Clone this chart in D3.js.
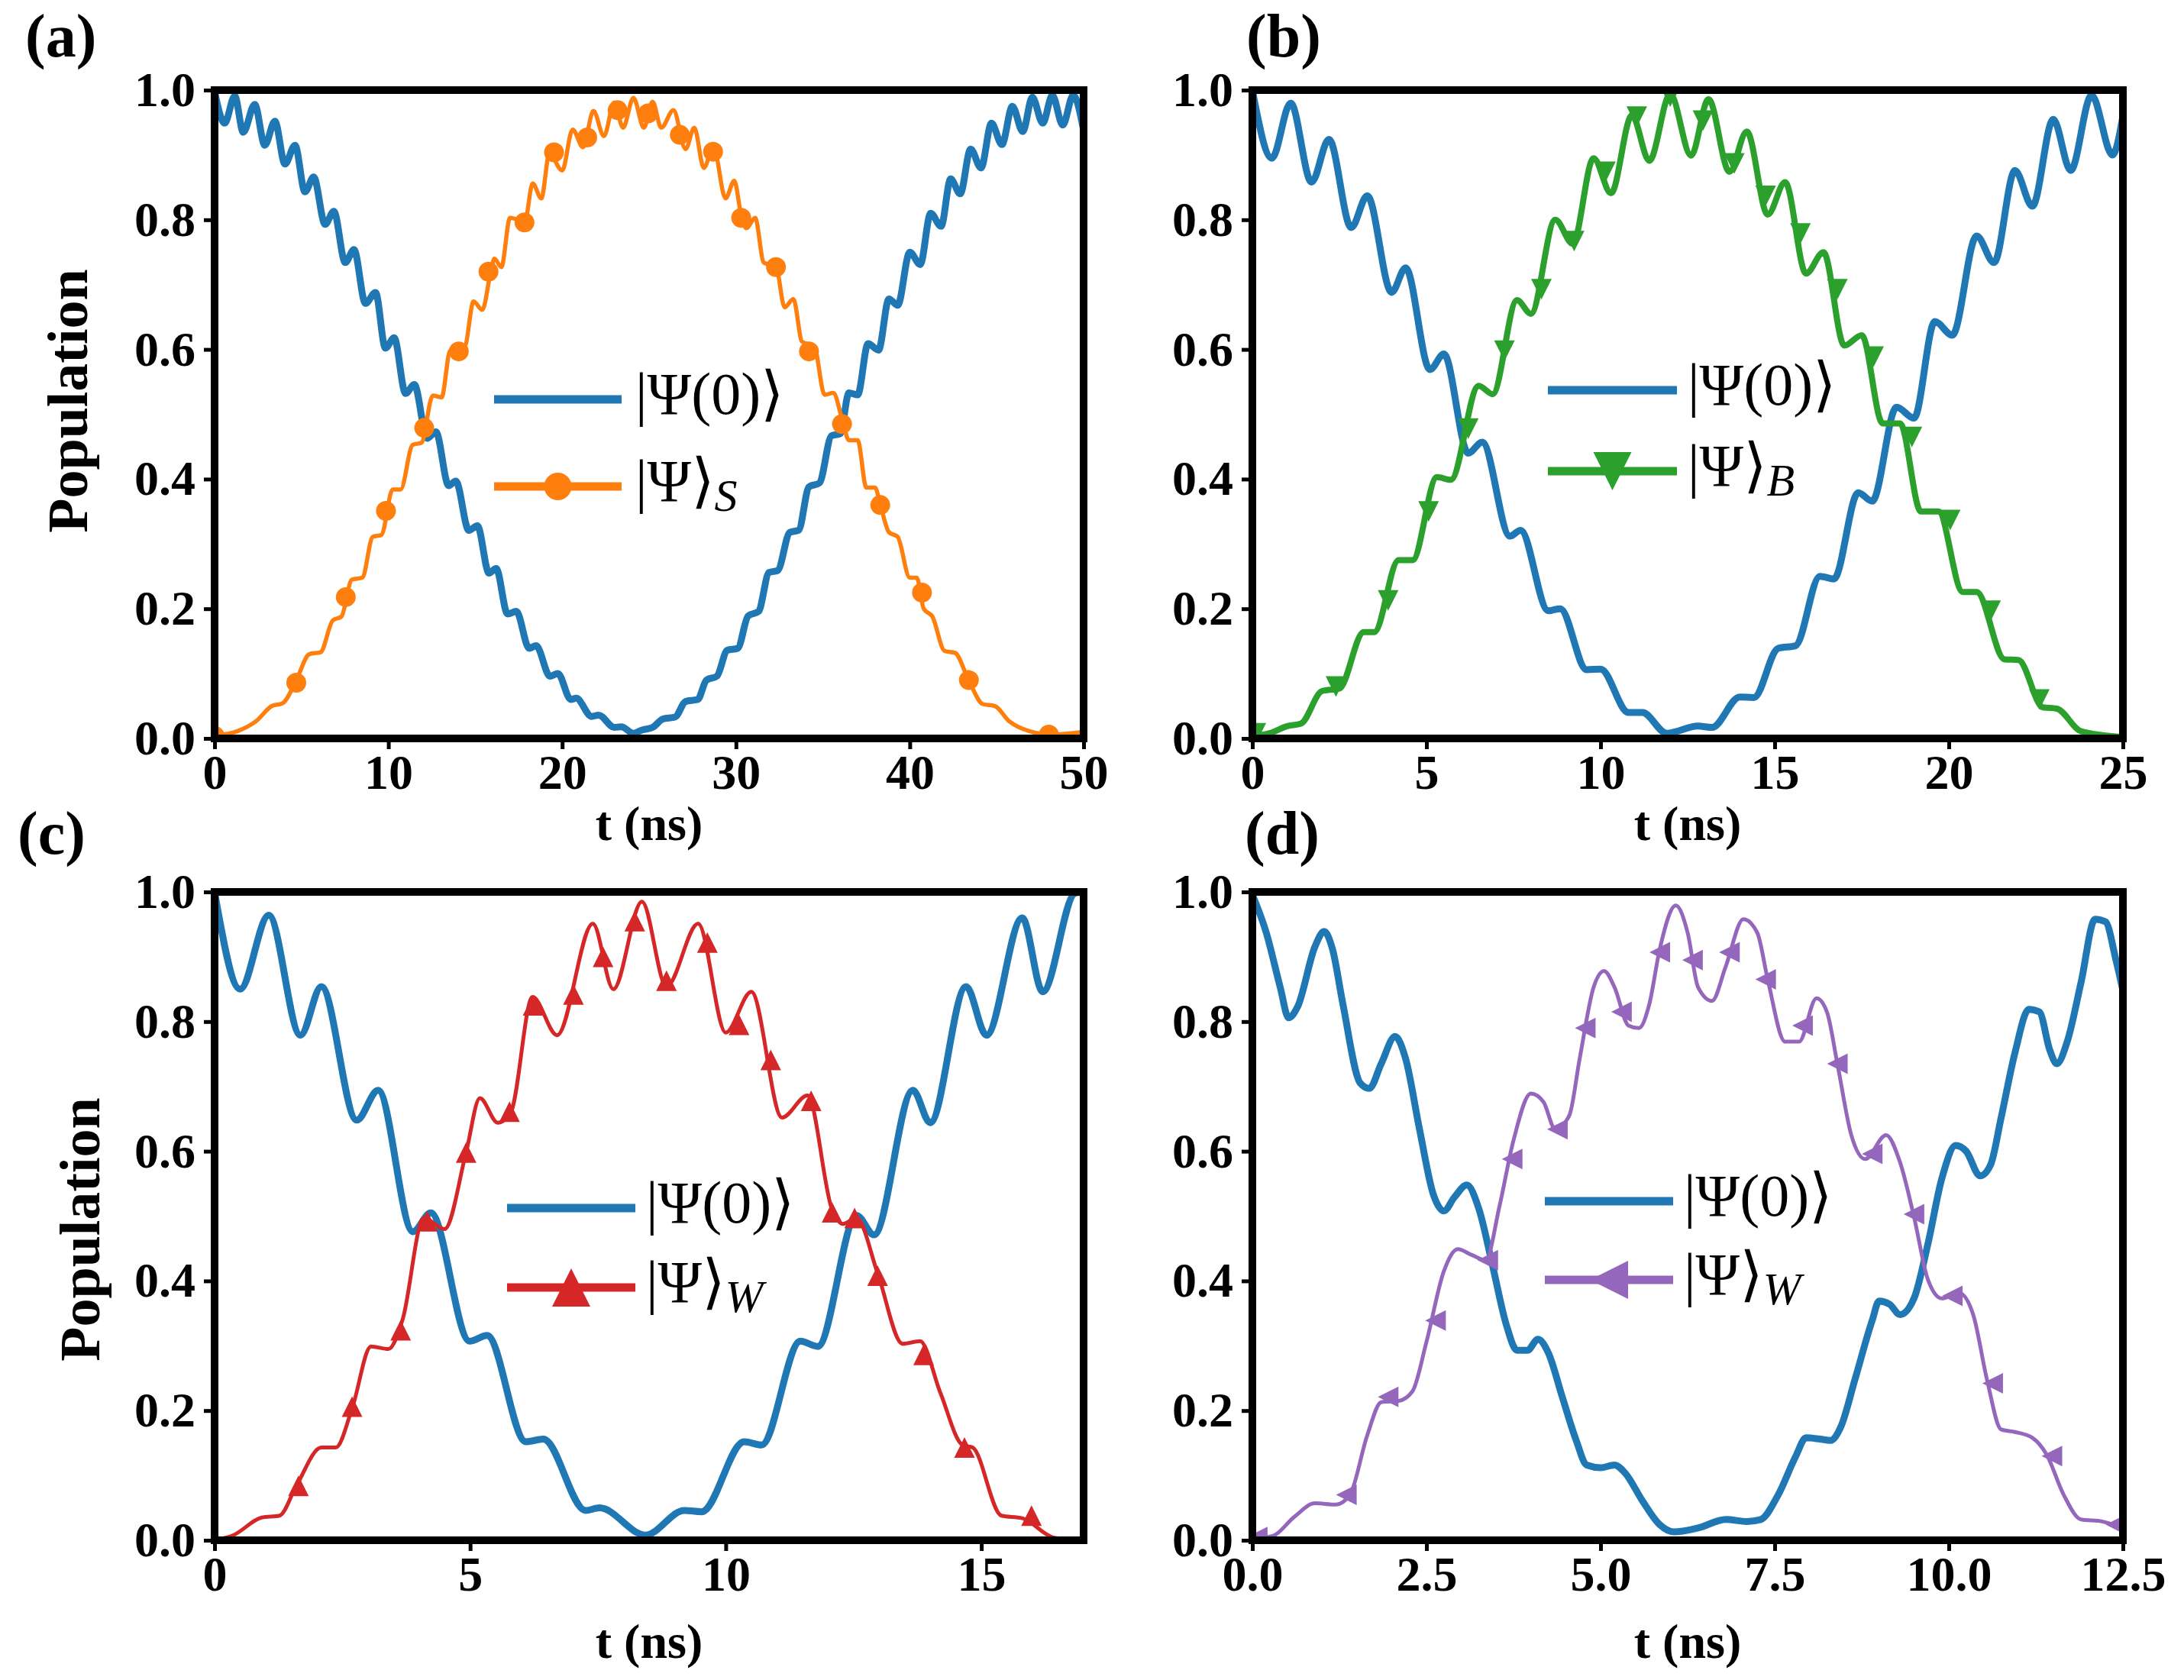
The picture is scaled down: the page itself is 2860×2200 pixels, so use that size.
<!DOCTYPE html>
<html>
<head>
<meta charset="utf-8">
<script src="https://cdnjs.cloudflare.com/ajax/libs/d3/7.8.5/d3.min.js"></script>
<style>
  body { margin: 0; background: #fff; }
  svg { display: block; }
</style>
</head>
<body>
<svg id="fig"></svg>
<script>
// ---- data: [t (ns), population] ----
const aBlue = [[0,0.998],[0.58,0.949],[1.16,0.991],[1.65,0.935],[2.31,0.978],[2.89,0.915],[3.47,0.952],[4.05,0.886],[4.63,0.915],[5.2,0.843],[5.7,0.866],[6.36,0.793],[6.86,0.813],[7.52,0.734],[8.02,0.754],[8.68,0.671],[9.26,0.688],[9.83,0.602],[10.33,0.618],[10.99,0.532],[11.49,0.546],[12.23,0.463],[12.73,0.473],[13.47,0.39],[13.88,0.397],[14.63,0.321],[15.12,0.328],[15.79,0.255],[16.2,0.262],[16.86,0.192],[17.36,0.196],[18.1,0.139],[18.5,0.143],[19.3,0.096],[19.75,0.1],[20.5,0.06],[20.8,0.062],[21.7,0.034],[22.1,0.036],[23.0,0.017],[23.4,0.018],[24.1,0.008],[24.6,0.013],[25.2,0.017],[25.8,0.03],[26.5,0.033],[27.1,0.057],[27.8,0.06],[28.3,0.09],[28.9,0.096],[29.5,0.136],[30.1,0.139],[30.7,0.189],[31.3,0.196],[31.9,0.256],[32.4,0.259],[33.1,0.318],[33.6,0.321],[34.2,0.388],[34.8,0.394],[35.5,0.467],[36.0,0.47],[36.5,0.533],[37.0,0.53],[37.6,0.609],[38.2,0.599],[38.8,0.678],[39.3,0.668],[40.0,0.75],[40.6,0.731],[41.2,0.81],[41.8,0.79],[42.35,0.863],[42.9,0.84],[43.5,0.909],[44.1,0.88],[44.7,0.949],[45.3,0.916],[45.9,0.975],[46.5,0.936],[47.05,0.989],[47.65,0.949],[48.2,0.992],[48.8,0.946],[49.4,0.992],[50,0.938]];
const aOrange = [[0,0.004],[1.3,0.011],[2.4,0.027],[3.3,0.05],[3.9,0.054],[4.66,0.087],[5.45,0.13],[6.1,0.133],[6.8,0.182],[7.3,0.188],[7.9,0.245],[8.5,0.248],[9.1,0.311],[9.6,0.314],[10.25,0.384],[10.7,0.384],[11.4,0.453],[11.9,0.456],[12.56,0.529],[13.06,0.526],[13.55,0.598],[14.4,0.605],[14.9,0.674],[15.4,0.661],[15.9,0.721],[16.1,0.74],[16.5,0.727],[17.0,0.803],[17.85,0.797],[18.3,0.856],[18.8,0.833],[19.26,0.902],[20.0,0.876],[20.6,0.939],[21.2,0.912],[21.8,0.968],[22.4,0.929],[23.0,0.981],[23.5,0.942],[24.1,0.988],[24.7,0.942],[25.2,0.982],[25.7,0.942],[26.4,0.969],[27.1,0.909],[27.6,0.942],[28.15,0.88],[28.7,0.913],[29.4,0.833],[29.9,0.86],[30.3,0.807],[30.6,0.787],[31.1,0.803],[31.6,0.734],[32.3,0.728],[32.8,0.665],[33.3,0.678],[33.8,0.612],[34.5,0.605],[35.1,0.53],[35.6,0.533],[36.1,0.493],[36.5,0.46],[37.0,0.46],[37.5,0.387],[38.0,0.387],[38.3,0.361],[38.8,0.318],[39.3,0.311],[40.0,0.248],[40.4,0.248],[40.8,0.2],[41.3,0.188],[42.0,0.135],[42.6,0.132],[43.4,0.089],[44.2,0.053],[44.9,0.05],[45.7,0.027],[46.9,0.011],[48.1,0.006],[50,0.01]];
const aOrangeMarks = [[0,0.004],[4.7,0.086],[7.55,0.218],[9.86,0.351],[12.06,0.479],[14.05,0.597],[15.76,0.72],[17.83,0.796],[19.53,0.904],[21.44,0.927],[23.19,0.969],[24.94,0.964],[26.77,0.931],[28.68,0.905],[30.3,0.803],[32.3,0.727],[34.2,0.597],[36.1,0.485],[38.3,0.36],[40.7,0.225],[43.4,0.09],[48.0,0.006]];

const bBlue = [[0,1.0],[0.56,0.895],[1.1,0.98],[1.7,0.858],[2.2,0.924],[2.84,0.788],[3.3,0.837],[4.0,0.688],[4.4,0.726],[5.1,0.569],[5.5,0.593],[6.2,0.44],[6.6,0.457],[7.4,0.312],[7.7,0.321],[8.5,0.197],[8.84,0.2],[9.6,0.106],[10.0,0.107],[10.8,0.04],[11.2,0.04],[11.9,0.008],[12.8,0.019],[13.2,0.017],[14.0,0.064],[14.4,0.063],[15.1,0.139],[15.6,0.143],[16.3,0.25],[16.7,0.246],[17.4,0.379],[17.8,0.366],[18.5,0.511],[19.0,0.494],[19.6,0.643],[20.1,0.622],[20.8,0.775],[21.3,0.734],[21.9,0.876],[22.4,0.821],[23.0,0.955],[23.5,0.876],[24.1,0.992],[24.7,0.9],[25,0.96]];
const bGreen = [[0,0.003],[0.5,0.008],[1.0,0.019],[1.4,0.023],[2.0,0.073],[2.5,0.077],[3.2,0.164],[3.5,0.164],[4.2,0.275],[4.6,0.275],[5.3,0.403],[5.7,0.399],[6.5,0.544],[6.9,0.531],[7.6,0.676],[8.0,0.655],[8.7,0.8],[9.2,0.763],[9.8,0.895],[10.3,0.841],[10.9,0.961],[11.4,0.891],[12.0,0.994],[12.6,0.899],[13.1,0.986],[13.7,0.874],[14.2,0.936],[14.8,0.808],[15.3,0.858],[15.9,0.717],[16.4,0.75],[17.0,0.606],[17.5,0.622],[18.1,0.486],[18.6,0.486],[19.2,0.35],[19.7,0.35],[20.4,0.226],[20.8,0.226],[21.6,0.122],[22.0,0.121],[22.7,0.048],[23.1,0.046],[23.8,0.011],[25,0.002]];
const bGreenMarks = [[0.1,0.008],[2.4,0.08],[3.9,0.213],[5.06,0.35],[6.2,0.478],[7.24,0.598],[8.3,0.693],[9.24,0.767],[10.14,0.874],[11.04,0.959],[12.0,0.99],[12.94,0.953],[13.84,0.887],[14.74,0.837],[15.74,0.779],[16.8,0.693],[17.84,0.589],[18.94,0.465],[20.04,0.337],[21.2,0.197],[22.6,0.06]];

const cBlue = [[0,1.0],[0.5,0.85],[1.06,0.964],[1.68,0.779],[2.09,0.854],[2.78,0.648],[3.2,0.694],[3.88,0.476],[4.23,0.505],[4.99,0.307],[5.33,0.316],[6.09,0.152],[6.43,0.156],[7.26,0.046],[7.53,0.05],[8.43,0.008],[9.19,0.046],[9.53,0.044],[10.36,0.152],[10.7,0.147],[11.46,0.307],[11.8,0.299],[12.56,0.501],[12.9,0.471],[13.66,0.694],[14.0,0.644],[14.7,0.854],[15.1,0.779],[15.8,0.96],[16.2,0.846],[16.83,0.998],[17,1.0]];
const cRed = [[0,0],[0.37,0.008],[0.92,0.035],[1.27,0.038],[1.6,0.084],[2.09,0.143],[2.37,0.143],[2.7,0.206],[3.06,0.299],[3.4,0.295],[3.68,0.341],[4.09,0.497],[4.5,0.48],[4.92,0.598],[5.19,0.682],[5.54,0.644],[5.8,0.661],[6.22,0.838],[6.7,0.779],[7.4,0.951],[7.8,0.85],[8.36,0.985],[8.84,0.854],[9.46,0.951],[10.0,0.783],[10.5,0.846],[11.1,0.652],[11.6,0.686],[12.08,0.51],[12.29,0.488],[12.56,0.497],[12.97,0.412],[13.46,0.303],[13.8,0.307],[14.2,0.227],[14.63,0.147],[14.83,0.143],[15.39,0.038],[15.8,0.034],[16.42,0.004],[17,0]];
const cRedMarks = [[1.64,0.084],[2.69,0.206],[3.64,0.324],[4.16,0.492],[4.92,0.598],[5.77,0.661],[6.23,0.825],[7.02,0.842],[7.6,0.9],[8.22,0.955],[8.84,0.863],[9.64,0.922],[10.26,0.795],[10.88,0.741],[11.67,0.678],[12.08,0.506],[12.52,0.497],[12.97,0.408],[13.87,0.286],[14.67,0.143],[15.98,0.038]];

const dBlue = [[0,0.996],[0.2,0.937],[0.4,0.853],[0.52,0.806],[0.65,0.823],[0.9,0.916],[1.03,0.939],[1.15,0.912],[1.3,0.827],[1.55,0.705],[1.68,0.697],[1.85,0.735],[2.05,0.777],[2.2,0.743],[2.4,0.634],[2.6,0.533],[2.75,0.508],[2.9,0.529],[3.08,0.548],[3.25,0.512],[3.45,0.423],[3.65,0.331],[3.8,0.293],[3.95,0.293],[4.1,0.31],[4.25,0.289],[4.45,0.221],[4.65,0.154],[4.8,0.116],[5.0,0.112],[5.2,0.116],[5.35,0.104],[5.6,0.061],[5.85,0.024],[6.05,0.013],[6.4,0.019],[6.8,0.032],[7.1,0.029],[7.3,0.032],[7.55,0.07],[7.8,0.129],[7.95,0.158],[8.15,0.156],[8.3,0.154],[8.45,0.175],[8.65,0.247],[8.9,0.339],[9.0,0.369],[9.15,0.364],[9.3,0.348],[9.5,0.373],[9.7,0.457],[9.9,0.558],[10.1,0.609],[10.25,0.6],[10.45,0.562],[10.6,0.579],[10.75,0.651],[10.95,0.752],[11.15,0.819],[11.3,0.815],[11.45,0.756],[11.55,0.735],[11.7,0.769],[11.9,0.861],[12.1,0.958],[12.25,0.954],[12.4,0.895],[12.5,0.848]];
const dPurple = [[0.05,0.003],[0.3,0.007],[0.6,0.036],[0.9,0.057],[1.2,0.055],[1.4,0.07],[1.65,0.162],[1.85,0.213],[2.1,0.215],[2.3,0.23],[2.5,0.306],[2.75,0.415],[2.95,0.449],[3.15,0.44],[3.35,0.432],[3.55,0.516],[3.75,0.617],[4.0,0.689],[4.18,0.676],[4.35,0.634],[4.55,0.655],[4.7,0.743],[4.9,0.853],[5.05,0.878],[5.2,0.853],[5.4,0.794],[5.55,0.79],[5.7,0.827],[5.85,0.912],[6.08,0.979],[6.25,0.937],[6.4,0.853],[6.6,0.832],[6.8,0.886],[7.05,0.958],[7.25,0.937],[7.4,0.865],[7.65,0.769],[7.85,0.769],[8.1,0.836],[8.25,0.815],[8.4,0.735],[8.6,0.625],[8.8,0.588],[9.1,0.625],[9.3,0.583],[9.5,0.499],[9.7,0.402],[9.9,0.373],[10.15,0.381],[10.35,0.348],[10.55,0.247],[10.75,0.171],[10.95,0.167],[11.2,0.158],[11.4,0.133],[11.65,0.07],[11.9,0.032],[12.2,0.029],[12.5,0.019]];
const dPurpleMarks = [[0.07,0.005],[1.35,0.07],[1.95,0.221],[2.63,0.339],[3.38,0.432],[3.73,0.588],[4.38,0.634],[4.78,0.79],[5.3,0.815],[5.85,0.907],[6.32,0.895],[6.85,0.907],[7.37,0.865],[7.9,0.794],[8.4,0.735],[8.9,0.596],[9.5,0.503],[10.05,0.377],[10.63,0.242],[11.48,0.13],[12.4,0.024]];

// ---- ticks and labels ----
const yTicks = [0, 0.2, 0.4, 0.6, 0.8, 1.0];
const aTicks = [0, 10, 20, 30, 40, 50];
const bTicks = [0, 5, 10, 15, 20, 25];
const cTicks = [0, 5, 10, 15];
const dTicks = [0, 2.5, 5, 7.5, 10, 12.5];
const panelLetters = ['(a)', '(b)', '(c)', '(d)'];
const subscripts = ['S', 'B', 'W', 'W'];

const BLUE = '#1f77b4';
const serif = "'Liberation Serif','Times New Roman',serif";
const mathFont = "'Liberation Serif','DejaVu Serif','DejaVu Sans',serif";

const panels = [
  { left: 281, right: 1419, top: 118, bottom: 967, xDomain: [0, 50], xTicks: aTicks, xFmt: 'd',
    base: aBlue, other: aOrange, marks: aOrangeMarks, color: '#ff7f0e', lw: 5.5, marker: 'circle',
    legend: { x0: 647, x1: 814, y1: 523, y2: 637, tx: 832 }, letter: [33, 74], ylabel: [114, 525], xlabelY: 1100 },
  { left: 1640, right: 2780, top: 118, bottom: 967, xDomain: [0, 25], xTicks: bTicks, xFmt: 'd',
    base: bBlue, other: bGreen, marks: bGreenMarks, color: '#2ca02c', lw: 8, marker: 'down',
    legend: { x0: 2027, x1: 2196, y1: 511, y2: 617, tx: 2210 }, letter: [1632, 74], ylabel: null, xlabelY: 1100 },
  { left: 281, right: 1419, top: 1168, bottom: 2017, xDomain: [0, 17], xTicks: cTicks, xFmt: 'd',
    base: cBlue, other: cRed, marks: cRedMarks, color: '#d62728', lw: 5, marker: 'up',
    legend: { x0: 664, x1: 832, y1: 1582, y2: 1686, tx: 846 }, letter: [23, 1118], ylabel: [130, 1610], xlabelY: 2171 },
  { left: 1640, right: 2780, top: 1168, bottom: 2017, xDomain: [0, 12.5], xTicks: dTicks, xFmt: '.1f',
    base: dBlue, other: dPurple, marks: dPurpleMarks, color: '#9467bd', lw: 5, marker: 'left',
    legend: { x0: 2023, x1: 2191, y1: 1573, y2: 1676, tx: 2205 }, letter: [1630, 1118], ylabel: null, xlabelY: 2171 }
];

const svg = d3.select('#fig').attr('width', 2860).attr('height', 2200);
svg.append('rect').attr('width', 2860).attr('height', 2200).attr('fill', '#fff');
const defs = svg.append('defs');

// triangle markers centred on their bounding box, like matplotlib
function triPath(type, s) {
  const h = s / 2;
  if (type === 'up') return `M0,${-h}L${h},${h}L${-h},${h}Z`;
  if (type === 'down') return `M0,${h}L${h},${-h}L${-h},${-h}Z`;
  return `M${-h},0L${h},${-h}L${h},${h}Z`;
}

function drawMarker(g, type, cx, cy, size, color) {
  if (type === 'circle') {
    g.append('circle').attr('cx', cx).attr('cy', cy).attr('r', size / 2).attr('fill', color);
  } else {
    g.append('path').attr('d', triPath(type, size))
     .attr('transform', `translate(${cx},${cy})`).attr('fill', color);
  }
}

panels.forEach((p, i) => {
  const x = d3.scaleLinear().domain(p.xDomain).range([p.left, p.right]);
  const y = d3.scaleLinear().domain([0, 1]).range([p.bottom, p.top]);

  const clipId = 'clip' + i;
  defs.append('clipPath').attr('id', clipId).append('rect')
      .attr('x', p.left).attr('y', p.top)
      .attr('width', p.right - p.left).attr('height', p.bottom - p.top);

  const line = d3.line()
                 .x(d => x(d[0]))
                 .y(d => y(d[1]))
                 .curve(d3.curveMonotoneX);

  const plot = svg.append('g').attr('clip-path', `url(#${clipId})`);

  // |Psi(0)> population
  plot.append('path')
      .datum(p.base)
      .attr('fill', 'none')
      .attr('stroke', BLUE)
      .attr('stroke-width', 9)
      .attr('stroke-linejoin', 'round')
      .attr('d', line);

  // target state population
  plot.append('path')
      .datum(p.other)
      .attr('fill', 'none')
      .attr('stroke', p.color)
      .attr('stroke-width', p.lw)
      .attr('stroke-linejoin', 'round')
      .attr('d', line);

  p.marks.forEach(d => drawMarker(plot, p.marker, x(d[0]), y(d[1]), p.marker === 'circle' ? 26 : 27, p.color));

  // axes
  const xAxis = svg.append('g')
     .attr('transform', `translate(0,${p.bottom})`)
     .call(d3.axisBottom(x).tickValues(p.xTicks).tickFormat(d3.format(p.xFmt))
             .tickSize(14).tickPadding(7));
  const yAxis = svg.append('g')
     .attr('transform', `translate(${p.left},0)`)
     .call(d3.axisLeft(y).tickValues(yTicks).tickFormat(d3.format('.1f'))
             .tickSize(14).tickPadding(11));
  [xAxis, yAxis].forEach(ax => {
    ax.select('.domain').remove();
    ax.selectAll('line').attr('stroke', '#000').attr('stroke-width', 5);
    ax.selectAll('text')
      .attr('fill', '#000')
      .style('font-family', serif)
      .style('font-weight', 'bold')
      .style('font-size', '64px');
  });

  // frame
  svg.append('rect')
     .attr('x', p.left).attr('y', p.top)
     .attr('width', p.right - p.left).attr('height', p.bottom - p.top)
     .attr('fill', 'none').attr('stroke', '#000').attr('stroke-width', 10);

  // axis labels
  svg.append('text')
     .attr('x', (p.left + p.right) / 2).attr('y', p.xlabelY)
     .attr('text-anchor', 'middle')
     .style('font-family', serif).style('font-weight', 'bold').style('font-size', '64px')
     .text('t (ns)');

  if (p.ylabel) {
    svg.append('text')
       .attr('transform', `translate(${p.ylabel[0]},${p.ylabel[1]}) rotate(-90)`)
       .attr('text-anchor', 'middle')
       .style('font-family', serif).style('font-weight', 'bold').style('font-size', '74px')
       .text('Population');
  }

  svg.append('text')
     .attr('x', p.letter[0]).attr('y', p.letter[1])
     .style('font-family', serif).style('font-weight', 'bold').style('font-size', '80px')
     .text(panelLetters[i]);

  // legend (no frame)
  const L = p.legend;
  const lg = svg.append('g');
  lg.append('line').attr('x1', L.x0).attr('x2', L.x1).attr('y1', L.y1).attr('y2', L.y1)
    .attr('stroke', BLUE).attr('stroke-width', 11);
  lg.append('line').attr('x1', L.x0).attr('x2', L.x1).attr('y1', L.y2).attr('y2', L.y2)
    .attr('stroke', p.color).attr('stroke-width', 11);
  drawMarker(lg, p.marker, (L.x0 + L.x1) / 2, L.y2, p.marker === 'circle' ? 36 : 50, p.color);

  lg.append('text')
    .attr('x', L.tx).attr('y', L.y1 + 19)
    .style('font-family', mathFont).style('font-size', '78px')
    .text('|\u03A8(0)\u27E9');
  const t2 = lg.append('text')
    .attr('x', L.tx).attr('y', L.y2 + 19)
    .style('font-family', mathFont).style('font-size', '78px');
  t2.append('tspan').text('|\u03A8\u27E9');
  t2.append('tspan').attr('dy', 13).style('font-style', 'italic').style('font-size', '60px')
    .text(subscripts[i]);
});
</script>
</body>
</html>
